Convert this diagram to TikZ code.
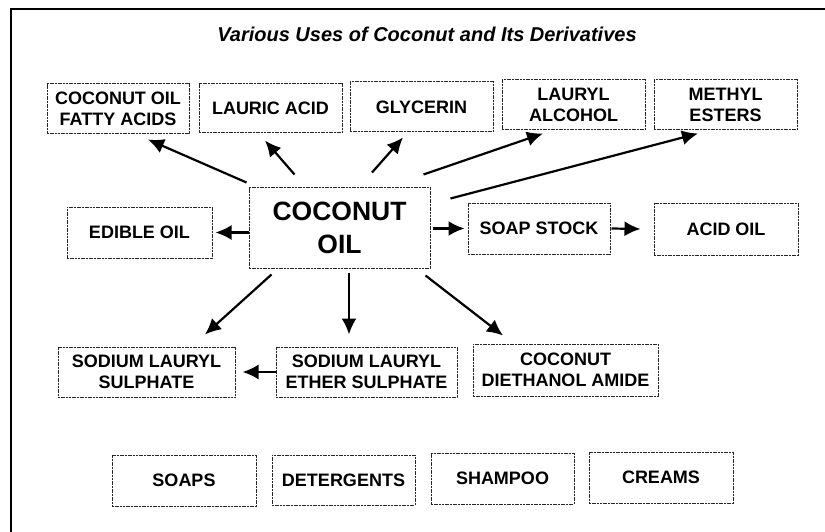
\documentclass[tikz,border=0pt]{standalone}
\usepackage{fontspec}
\setmainfont{Liberation Sans}
\usetikzlibrary{arrows.meta,calc}
\begin{document}
\begin{tikzpicture}[x=1pt,y=-1pt,
  box/.style={draw=black!85, line width=1pt, dash pattern=on 2pt off 0.7pt,
    rectangle, inner sep=0pt, align=center,
    font=\fontsize{18}{21.5}\selectfont\bfseries},
  big/.style={box, font=\fontsize{26.5}{33}\selectfont\bfseries},
  arr/.style={line width=2.2pt, -{Latex[length=16pt,width=15pt]}}]
\useasboundingbox (0,0) rectangle (825,532);
\draw[line width=2pt] (11,532) -- (11,9) -- (825,9);
\node[font=\fontsize{20}{23}\selectfont\bfseries\itshape] (title) at (427,34) {Various Uses of Coconut and Its Derivatives};
% top row
\node[box, minimum width=142pt, minimum height=50pt] (fatty) at (118,109) {COCONUT OIL\\FATTY ACIDS};
\node[box, minimum width=143pt, minimum height=49pt] (lauric) at (270.5,108.5) {LAURIC ACID};
\node[box, minimum width=143pt, minimum height=50pt] (glycerin) at (421.5,107) {GLYCERIN};
\node[box, minimum width=143pt, minimum height=50pt] (lauryl) at (573.5,105) {LAURYL\\ALCOHOL};
\node[box, minimum width=143pt, minimum height=50pt] (methyl) at (725.5,105) {METHYL\\ESTERS};
% middle row
\node[box, minimum width=145pt, minimum height=51pt] (edible) at (139.5,232.5) {EDIBLE OIL};
\node[big, minimum width=181pt, minimum height=80pt] (coconut) at (339.5,228) {COCONUT\\OIL};
\node[box, minimum width=142pt, minimum height=51pt] (soapstock) at (539,228.5) {SOAP STOCK};
\node[box, minimum width=144pt, minimum height=52pt] (acidoil) at (726,229) {ACID OIL};
% lower row
\node[box, minimum width=177pt, minimum height=50pt] (sls) at (146.5,372) {SODIUM LAURYL\\SULPHATE};
\node[box, minimum width=181pt, minimum height=50pt] (sles) at (366.5,372) {SODIUM LAURYL\\ETHER SULPHATE};
\node[box, minimum width=185pt, minimum height=52pt] (cdea) at (565.5,370) {COCONUT\\DIETHANOL AMIDE};
% bottom row
\node[box, minimum width=144pt, minimum height=51pt] (soaps) at (184,480.5) {SOAPS};
\node[box, minimum width=143pt, minimum height=50pt] (detergents) at (343.5,480) {DETERGENTS};
\node[box, minimum width=143pt, minimum height=51pt] (shampoo) at (502.5,478.5) {SHAMPOO};
\node[box, minimum width=144pt, minimum height=51pt] (creams) at (661,477.5) {CREAMS};
% arrows
\draw[arr] ($(coconut.north west)+(-2,-5)$) -- ($(fatty.south)+(30,5)$);
\draw[arr] ($(coconut.north west)+(46,-13)$) -- ($(lauric.south)+(-5.5,7)$);
\draw[arr] ($(coconut.north)+(32.5,-15)$) -- ($(glycerin.south)+(-18.5,5)$);
\draw[arr] ($(coconut.north east)+(-7,-13)$) -- ($(lauryl.south)+(-30.5,3)$);
\draw[arr] ($(coconut.north east)+(20,11)$) -- ($(methyl.south)+(-27.5,3)$);
\draw[arr] (coconut.west|-edible.east) -- ($(edible.east)+(3,0)$);
\draw[arr] ($(coconut.east|-soapstock.west)+(2,0)$) -- ($(soapstock.west)+(-3,0)$);
\draw[arr] ($(soapstock.east)+(1,0)$) -- ($(acidoil.west)+(-13,0)$);
\draw[arr] ($(coconut.south west)+(23,6)$) -- ($(sls.north)+(58.5,-12)$);
\draw[arr] ($(coconut.south)+(9.5,4)$) -- ($(sles.north)+(-17.5,-12)$);
\draw[arr] (sles.west) -- ($(sls.east)+(7,0)$);
\draw[arr] ($(coconut.south east)+(-5,7)$) -- ($(cdea.north)+(-62.5,-8)$);
\end{tikzpicture}
\end{document}
